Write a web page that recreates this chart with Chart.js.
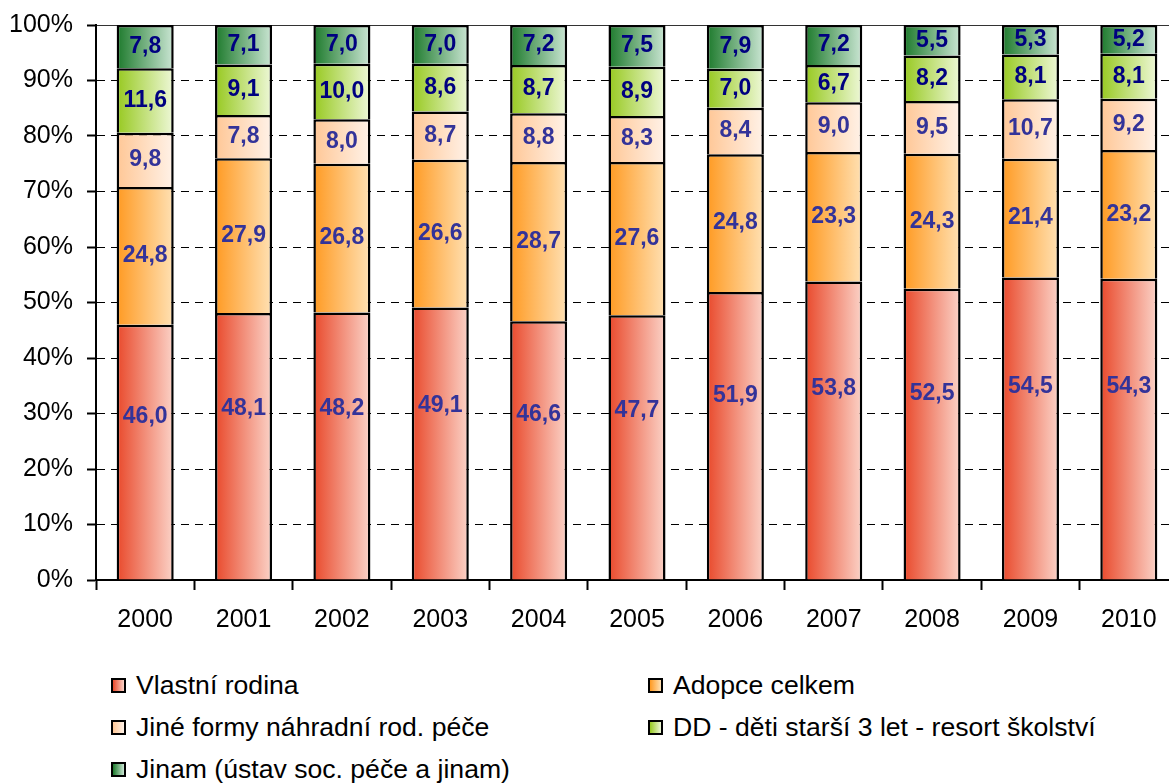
<!DOCTYPE html>
<html>
<head>
<meta charset="utf-8">
<script src="https://cdn.jsdelivr.net/npm/chart.js@4"></script>
<style>
  body { margin: 0; width: 1169px; height: 784px; overflow: hidden; background: #fff; font-family: "Liberation Sans", Arial, sans-serif; }
  #wrap { position: absolute; left: 0; top: 0; width: 1180px; height: 658px; }
  #legend { position: absolute; left: 0; top: 0; }
  .item { position: absolute; display: flex; align-items: center; font-size: 26.6px; color: #000; white-space: nowrap; }
  .box { width: 11px; height: 11px; border: 2px solid #000; margin-right: 10px; }
</style>
</head>
<body>
<div id="wrap"><canvas id="chart" width="1180" height="658"></canvas></div>
<div id="legend"></div>
<script>
const years = ["2000", "2001", "2002", "2003", "2004", "2005", "2006", "2007", "2008", "2009", "2010"];
const seriesNames = ["Vlastní rodina", "Adopce celkem", "Jiné formy náhradní rod. péče", "DD - děti starší 3 let - resort školství", "Jinam (ústav soc. péče a jinam)"];
const vlastni = [46.0, 48.1, 48.2, 49.1, 46.6, 47.7, 51.9, 53.8, 52.5, 54.5, 54.3];
const adopce = [24.8, 27.9, 26.8, 26.6, 28.7, 27.6, 24.8, 23.3, 24.3, 21.4, 23.2];
const jine = [9.8, 7.8, 8.0, 8.7, 8.8, 8.3, 8.4, 9.0, 9.5, 10.7, 9.2];
const dd = [11.6, 9.1, 10.0, 8.6, 8.7, 8.9, 7.0, 6.7, 8.2, 8.1, 8.1];
const jinam = [7.8, 7.1, 7.0, 7.0, 7.2, 7.5, 7.9, 7.2, 5.5, 5.3, 5.2];
const yTicks = [0, 10, 20, 30, 40, 50, 60, 70, 80, 90, 100];

// left / right end of each horizontal gradient
const fills = [
  ["#e9492b", "#fbd3c8"],
  ["#ff9a22", "#ffe1b4"],
  ["#ffc796", "#fff2e8"],
  ["#97c920", "#eef8d8"],
  ["#1d7a2c", "#cbe6d4"]
];
const labelColors = ["#333399", "#333399", "#333399", "#000080", "#000080"];
const barPct = 0.58;

function gradientFor(i) {
  return function (ctx) {
    const chart = ctx.chart;
    const xs = chart.scales.x;
    if (ctx.type !== "data" || !xs) return fills[i][0];
    const cx = xs.getPixelForValue(ctx.dataIndex);
    const w = xs.width / years.length * barPct;
    if (!isFinite(cx) || !isFinite(w) || w <= 0) return fills[i][0];
    const g = chart.ctx.createLinearGradient(cx - w / 2, 0, cx + w / 2, 0);
    g.addColorStop(0, fills[i][0]);
    g.addColorStop(1, fills[i][1]);
    return g;
  };
}

const values = [vlastni, adopce, jine, dd, jinam];
const datasets = values.map(function (v, i) {
  return {
    label: seriesNames[i],
    data: v,
    backgroundColor: gradientFor(i),
    borderColor: "#000",
    borderWidth: 2.5,
    barPercentage: barPct,
    categoryPercentage: 1.0
  };
});

// value labels inside segments
const valueLabels = {
  id: "valueLabels",
  afterDatasetsDraw(chart) {
    const c = chart.ctx;
    c.save();
    c.font = "bold 23px 'Liberation Sans', Arial, sans-serif";
    c.textAlign = "center";
    c.textBaseline = "middle";
    chart.data.datasets.forEach(function (ds, i) {
      const meta = chart.getDatasetMeta(i);
      c.fillStyle = labelColors[i];
      meta.data.forEach(function (bar, j) {
        const top = bar.y, base = bar.base;
        const y = i === 0 ? base - (base - top) * 0.64 : (top + base) / 2;
        c.fillText(ds.data[j].toFixed(1).replace(".", ","), bar.x, y);
      });
    });
    c.restore();
  }
};

Chart.defaults.font.family = "'Liberation Sans', Arial, sans-serif";
Chart.defaults.color = "#000";

const chart = new Chart(document.getElementById("chart"), {
  type: "bar",
  data: { labels: years, datasets: datasets },
  options: {
    responsive: false,
    animation: false,
    layout: { padding: { left: 8, right: 2, top: 25, bottom: 8 } },
    plugins: { legend: { display: false }, tooltip: { enabled: false } },
    scales: {
      x: {
        stacked: true,
        grid: { offset: true, drawOnChartArea: false, tickLength: 10, tickColor: "#000", tickWidth: 2 },
        border: { color: "#000", width: 2 },
        ticks: { font: { size: 25 }, padding: 15, color: "#000" }
      },
      y: {
        stacked: true,
        min: 0,
        max: 100,
        afterBuildTicks: function (axis) { axis.ticks = yTicks.map(function (v) { return { value: v }; }); },
        afterFit: function (axis) { axis.width = 88; axis.paddingTop = 0; axis.paddingBottom = 0; },
        grid: {
          color: function (ctx) { return ctx.tick && ctx.tick.value === 100 ? "#333" : "#000"; },
          lineWidth: 1,
          tickLength: 9,
          tickColor: "#000",
          tickWidth: 2
        },
        border: {
          color: "#000",
          width: 2,
          dash: function (ctx) { return ctx.tick && (ctx.tick.value === 0 || ctx.tick.value === 100) ? [] : [8, 6]; }
        },
        ticks: { font: { size: 25 }, padding: 14, color: "#000", callback: function (v) { return v + "%"; } }
      }
    }
  },
  plugins: [valueLabels]
});

// legend in two columns, built from the datasets
const legend = document.getElementById("legend");
const slots = [[111, 685], [648, 685], [111, 727], [648, 727], [111, 769]];
chart.data.datasets.forEach(function (ds, i) {
  const item = document.createElement("div");
  item.className = "item";
  item.style.left = slots[i][0] + "px";
  item.style.top = (slots[i][1] - 16) + "px";
  item.style.height = "32px";
  const box = document.createElement("span");
  box.className = "box";
  box.style.background = "linear-gradient(to right, " + fills[i][0] + ", " + fills[i][1] + ")";
  const txt = document.createElement("span");
  txt.textContent = ds.label;
  item.appendChild(box);
  item.appendChild(txt);
  legend.appendChild(item);
});
</script>
</body>
</html>
